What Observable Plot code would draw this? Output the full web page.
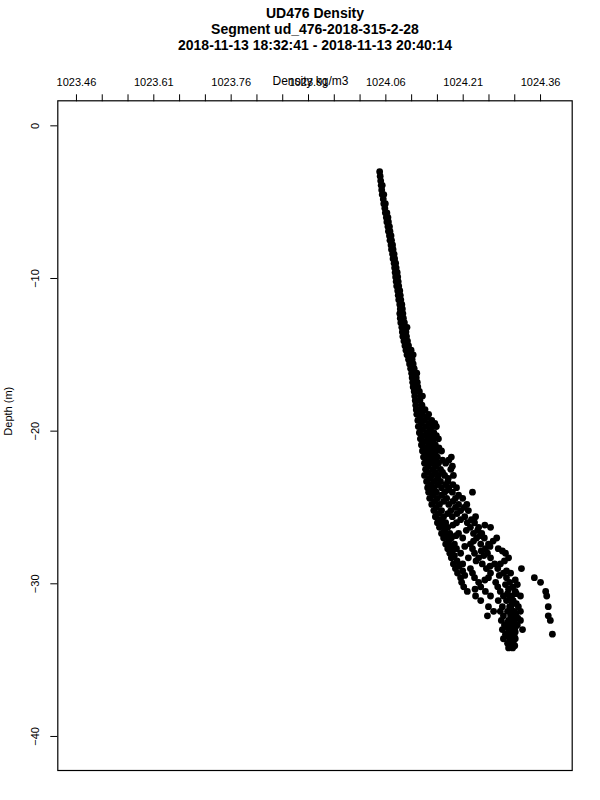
<!DOCTYPE html>
<html>
<head>
<meta charset="utf-8">
<script src="https://cdn.jsdelivr.net/npm/d3@7"></script>
<script src="https://cdn.jsdelivr.net/npm/@observablehq/plot@0.6"></script>
<style>
  html, body { margin: 0; padding: 0; background: #fff; }
  #chart svg { display: block; font-family: "Liberation Sans", Arial, Helvetica, sans-serif; }
</style>
</head>
<body>
<div id="chart"></div>
<script>
// ---- Titles / labels ----
const titleLines = [
  "UD476 Density",
  "Segment ud_476-2018-315-2-28",
  "2018-11-13 18:32:41 - 2018-11-13 20:40:14"
];
const xLabel = "Density kg/m3";
const yLabel = "Depth (m)";

// ---- Axis ticks ----
const xTicks = [1023.46, 1023.51, 1023.56, 1023.61, 1023.66, 1023.71, 1023.76, 1023.81, 1023.86,
                1023.91, 1023.96, 1024.01, 1024.06, 1024.11, 1024.16, 1024.21, 1024.26, 1024.31, 1024.36];
const xTickLabels = ["1023.46", "1023.61", "1023.76", "1023.91", "1024.06", "1024.21", "1024.36"];
const yTicks = [0, -10, -20, -30, -40];
const xDomain = [1023.4238, 1024.4214];
const yDomain = [-42.23, 1.64];

// ---- Data: each row = [depth (m), density values (kg/m3)...] ----
const upperProfile = [
  [-3.0, 1024.048], [-3.3, 1024.049], [-3.6, 1024.050], [-3.9, 1024.051, 1024.053], [-4.2, 1024.052],
  [-4.5, 1024.053, 1024.056], [-4.8, 1024.055], [-5.1, 1024.056, 1024.059], [-5.4, 1024.058], [-5.7, 1024.059, 1024.062],
  [-6.0, 1024.061, 1024.064], [-6.3, 1024.062, 1024.065], [-6.6, 1024.064, 1024.067], [-6.9, 1024.065, 1024.068], [-7.2, 1024.067, 1024.070],
  [-7.5, 1024.068, 1024.071], [-7.8, 1024.070, 1024.073], [-8.1, 1024.071, 1024.074], [-8.4, 1024.073, 1024.076], [-8.7, 1024.074, 1024.077],
  [-9.0, 1024.076, 1024.079], [-9.3, 1024.077, 1024.080], [-9.6, 1024.078, 1024.082], [-9.9, 1024.079, 1024.083], [-10.2, 1024.080, 1024.084],
  [-10.5, 1024.081, 1024.085], [-10.8, 1024.083, 1024.087], [-11.1, 1024.084, 1024.088], [-11.4, 1024.085, 1024.089], [-11.7, 1024.087, 1024.091],
  [-12.0, 1024.088, 1024.092],
  [-12.3, 1024.087, 1024.093], [-12.6, 1024.088, 1024.094], [-12.9, 1024.089, 1024.096],
  [-13.2, 1024.091, 1024.097, 1024.101], [-13.5, 1024.092, 1024.099], [-13.8, 1024.093, 1024.100],
  [-14.1, 1024.095, 1024.102], [-14.4, 1024.097, 1024.104], [-14.7, 1024.099, 1024.106, 1024.109],
  [-15.0, 1024.101, 1024.108, 1024.113], [-15.3, 1024.104, 1024.111], [-15.6, 1024.106, 1024.113],
  [-15.9, 1024.108, 1024.115], [-16.2, 1024.110, 1024.116, 1024.120], [-16.5, 1024.111, 1024.119],
  [-16.8, 1024.112, 1024.121], [-17.1, 1024.113, 1024.122], [-17.4, 1024.115, 1024.125],
  [-17.7, 1024.116, 1024.127, 1024.131], [-18.0, 1024.117, 1024.126], [-18.3, 1024.118, 1024.130],
  [-18.6, 1024.119, 1024.128, 1024.136]
];

const lowerProfile = [
  [-18.9, 1024.120, 1024.131, 1024.143],
  [-19.1, 1024.127, 1024.140],
  [-19.3, 1024.122, 1024.135, 1024.149],
  [-19.5, 1024.129, 1024.144, 1024.155],
  [-19.7, 1024.123, 1024.137, 1024.151, 1024.158],
  [-19.9, 1024.130, 1024.146],
  [-20.1, 1024.125, 1024.139, 1024.153],
  [-20.3, 1024.132, 1024.147, 1024.158],
  [-20.5, 1024.127, 1024.141, 1024.154, 1024.162],
  [-20.7, 1024.134, 1024.149],
  [-20.9, 1024.129, 1024.143, 1024.156],
  [-21.1, 1024.136, 1024.151, 1024.163],
  [-21.3, 1024.131, 1024.145, 1024.158, 1024.168],
  [-21.5, 1024.138, 1024.152],
  [-21.7, 1024.133, 1024.147, 1024.160, 1024.187],
  [-21.9, 1024.140, 1024.155, 1024.170, 1024.182],
  [-22.1, 1024.135, 1024.149, 1024.162, 1024.176],
  [-22.3, 1024.142, 1024.157, 1024.189],
  [-22.5, 1024.137, 1024.151, 1024.166, 1024.186],
  [-22.7, 1024.142, 1024.156, 1024.170],
  [-22.9, 1024.135, 1024.149, 1024.162, 1024.174, 1024.191],
  [-23.1, 1024.145, 1024.160, 1024.181],
  [-23.3, 1024.139, 1024.153, 1024.166, 1024.180],
  [-23.5, 1024.147, 1024.161, 1024.176, 1024.190],
  [-23.7, 1024.141, 1024.154, 1024.168, 1024.182, 1024.197],
  [-23.85, 1024.150, 1024.181],
  [-24.0, 1024.143, 1024.158, 1024.174, 1024.189, 1024.228],
  [-24.2, 1024.152, 1024.168, 1024.201],
  [-24.4, 1024.145, 1024.160, 1024.178, 1024.195, 1024.209],
  [-24.6, 1024.155, 1024.172, 1024.190],
  [-24.8, 1024.149, 1024.164, 1024.182, 1024.201, 1024.217],
  [-25.0, 1024.158, 1024.195, 1024.212],
  [-25.2, 1024.153, 1024.168, 1024.186, 1024.205, 1024.220],
  [-25.4, 1024.162, 1024.180, 1024.198],
  [-25.6, 1024.156, 1024.172, 1024.189, 1024.213, 1024.234],
  [-25.8, 1024.166, 1024.205, 1024.226],
  [-26.0, 1024.160, 1024.176, 1024.197, 1024.218, 1024.232],
  [-26.15, 1024.170, 1024.190, 1024.252],
  [-26.3, 1024.164, 1024.180, 1024.224, 1024.240, 1024.263],
  [-26.5, 1024.174, 1024.216, 1024.238],
  [-26.7, 1024.168, 1024.184, 1024.201, 1024.230, 1024.246],
  [-26.85, 1024.178, 1024.196, 1024.243],
  [-27.0, 1024.172, 1024.187, 1024.209, 1024.236, 1024.251, 1024.275],
  [-27.2, 1024.182, 1024.230, 1024.268],
  [-27.4, 1024.176, 1024.193, 1024.224, 1024.244, 1024.259],
  [-27.55, 1024.186, 1024.213, 1024.262],
  [-27.7, 1024.180, 1024.197, 1024.228, 1024.253, 1024.278],
  [-27.85, 1024.189, 1024.245, 1024.286],
  [-28.0, 1024.184, 1024.205, 1024.232, 1024.257, 1024.292],
  [-28.15, 1024.193, 1024.250],
  [-28.3, 1024.187, 1024.220, 1024.240, 1024.263, 1024.298],
  [-28.5, 1024.198, 1024.235, 1024.290],
  [-28.7, 1024.191, 1024.209, 1024.247, 1024.271, 1024.282],
  [-28.85, 1024.202, 1024.262],
  [-29.0, 1024.195, 1024.224, 1024.255, 1024.277, 1024.323],
  [-29.15, 1024.209, 1024.294],
  [-29.3, 1024.199, 1024.228, 1024.263, 1024.288, 1024.302],
  [-29.45, 1024.213, 1024.280],
  [-29.6, 1024.205, 1024.232, 1024.259, 1024.294],
  [-29.75, 1024.252, 1024.311],
  [-29.9, 1024.207, 1024.240, 1024.273, 1024.300],
  [-30.05, 1024.292, 1024.315],
  [-30.2, 1024.211, 1024.244, 1024.277, 1024.306],
  [-30.35, 1024.233, 1024.298],
  [-30.5, 1024.218, 1024.253, 1024.282, 1024.311],
  [-30.65, 1024.296, 1024.313],
  [-30.8, 1024.234, 1024.263, 1024.288, 1024.304, 1024.321],
  [-30.95, 1024.300],
  [-31.1, 1024.244, 1024.278, 1024.294, 1024.307],
  [-31.3, 1024.305, 1024.313],
  [-31.5, 1024.259, 1024.286, 1024.300, 1024.317],
  [-31.65, 1024.303],
  [-31.8, 1024.269, 1024.282, 1024.296, 1024.309, 1024.321],
  [-31.95, 1024.305, 1024.312],
  [-32.1, 1024.257, 1024.288, 1024.302],
  [-32.25, 1024.306, 1024.316],
  [-32.4, 1024.284, 1024.298, 1024.309, 1024.321],
  [-32.55, 1024.296, 1024.308],
  [-32.7, 1024.290, 1024.304, 1024.315],
  [-32.85, 1024.296, 1024.311],
  [-33.0, 1024.286, 1024.300, 1024.309, 1024.325],
  [-33.15, 1024.298, 1024.311],
  [-33.3, 1024.292, 1024.306],
  [-33.45, 1024.297, 1024.309],
  [-33.6, 1024.288, 1024.302, 1024.311],
  [-33.75, 1024.300],
  [-33.9, 1024.296, 1024.307],
  [-34.05, 1024.302, 1024.310],
  [-34.2, 1024.298, 1024.306]
];

const outlierDepth   = [-29.6, -29.9, -30.5, -30.8, -31.5, -32.1, -32.4, -33.3];
const outlierDensity = [1024.348, 1024.360, 1024.370, 1024.372, 1024.375, 1024.375, 1024.379, 1024.383];

// ---- Build table ----
const points = [];
for (const rows of [upperProfile, lowerProfile]) {
  for (const [depth, ...dens] of rows) for (const d of dens) points.push({density: d, depth});
}
outlierDepth.forEach((depth, i) => points.push({density: outlierDensity[i], depth}));

const labelSet = new Set(xTickLabels);
const fmtY = d3.format("d");
const font = "Liberation Sans, Arial, Helvetica, sans-serif";

const chart = Plot.plot({
  width: 600,
  height: 800,
  marginTop: 100.3,
  marginLeft: 57.3,
  marginRight: 28.3,
  marginBottom: 30,
  style: {fontFamily: font, background: "#fff", color: "#000"},
  x: {domain: xDomain},
  y: {domain: yDomain},
  marks: [
    Plot.frame({stroke: "#000", strokeWidth: 1.2}),
    Plot.axisX({
      anchor: "top", ticks: xTicks, tickSize: 7, tickPadding: 8, fontSize: 11,
      tickFormat: d => labelSet.has(d.toFixed(2)) ? d.toFixed(2) : "", label: null, strokeWidth: 1
    }),
    Plot.axisY({ticks: yTicks, tickSize: 7, tickFormat: () => "", label: null}),
    Plot.text(yTicks, {
      y: d => d, frameAnchor: "left", dx: -22, rotate: -90, fontSize: 11,
      text: d => fmtY(d), lineAnchor: "middle", textAnchor: "middle"
    }),
    Plot.text([yLabel], {frameAnchor: "left", dx: -49, rotate: -90, fontSize: 11, lineAnchor: "middle"}),
    Plot.text([xLabel], {frameAnchor: "top", dx: -4.5, dy: -20, fontSize: 12, lineAnchor: "middle"}),
    Plot.text([titleLines[0]], {frameAnchor: "top", dy: -87, fontSize: 14, fontWeight: "bold", lineAnchor: "middle"}),
    Plot.text([titleLines[1]], {frameAnchor: "top", dy: -71, fontSize: 14, fontWeight: "bold", lineAnchor: "middle"}),
    Plot.text([titleLines[2]], {frameAnchor: "top", dy: -55.3, fontSize: 14, fontWeight: "bold", lineAnchor: "middle"}),
    Plot.dot(points, {x: "density", y: "depth", r: 3.4, fill: "#000", stroke: "none"})
  ]
});
document.getElementById("chart").appendChild(chart);
</script>
</body>
</html>
